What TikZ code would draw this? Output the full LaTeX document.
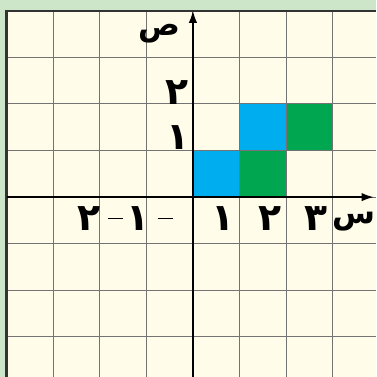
\documentclass[tikz,border=0pt]{standalone}
\usepackage{fontspec}
\newfontfamily\arabicfont[Script=Arabic]{DejaVu Sans}
\TeXXeTstate=1
\usetikzlibrary{arrows.meta}
\definecolor{paper}{HTML}{FFFCE9}
\definecolor{frame}{HTML}{CDE5C8}
\definecolor{cellblue}{HTML}{00AEEF}
\definecolor{cellgreen}{HTML}{00A650}
\newcommand{\negdash}{\rule[6.5pt]{0.32cm}{1.1pt}\hspace{5pt}}
\tikzset{
  grid/.style={draw=black!55, line width=0.6pt},
  axis/.style={draw=black, line width=0.9pt, -{Latex[length=2.6mm,width=1.8mm]}},
  edge/.style={draw=black!80, line width=1.3pt},
  lbl/.style={inner sep=0pt, font=\arabicfont\bfseries\fontsize{23}{26}\selectfont},
  axname/.style={inner sep=0pt, font=\arabicfont\bfseries\fontsize{19}{22}\selectfont}
}
\begin{document}
\begin{tikzpicture}[x=1cm, y=1cm]
            % Background
            \fill[frame] (-4.14,-3.86) rectangle (3.93,4.23);
            \fill[paper] (-4,-3.86) rectangle (3.93,4);
            \useasboundingbox (-4.14,-3.86) rectangle (3.93,4.23);

            % Cells
            \fill[cellblue] (0,0) rectangle (1,1);
            \fill[cellblue] (1,1) rectangle (2,2);
            \fill[cellgreen] (1,0) rectangle (2,1);
            \fill[cellgreen] (2,1) rectangle (3,2);

            % Grid
            \foreach \x in {-3,...,3} \draw[grid] (\x,-3.86) -- (\x,4);
            \foreach \y in {-3,...,3} \draw[grid] (-4,\y) -- (3.93,\y);
            \draw[edge] (-4,-3.86) -- (-4,4) -- (3.93,4);

            % Axes
            \coordinate (xstart) at (-4,0);
            \coordinate (xend) at (3.88,0);
            \coordinate (ystart) at (0,-3.86);
            \coordinate (yend) at (0,4);
            \draw[axis] (xstart) -- (xend);
            \draw[axis] (ystart) -- (yend);

            % Labels
            \node[lbl, anchor=east] (x1) at (0.90,-0.45) {\beginR ١\endR};
            \node[lbl, anchor=east] (x2) at (1.91,-0.45) {\beginR ٢\endR};
            \node[lbl, anchor=east] (x3) at (2.90,-0.45) {\beginR ٣\endR};
            \node[lbl] (xm1) at (-0.93,-0.45) {\beginR \negdash ١\endR};
            \node[lbl] (xm2) at (-1.99,-0.45) {\beginR \negdash ٢\endR};
            \node[axname] (xname) at (3.46,-0.52) {\beginR س\endR};
            \node[lbl] (y1) at (-0.33,1.27) {\beginR ١\endR};
            \node[lbl] (y2) at (-0.34,2.24) {\beginR ٢\endR};
            \node[axname] (yname) at (-0.71,3.5) {\beginR ص\endR};
        \end{tikzpicture}
\end{document}
